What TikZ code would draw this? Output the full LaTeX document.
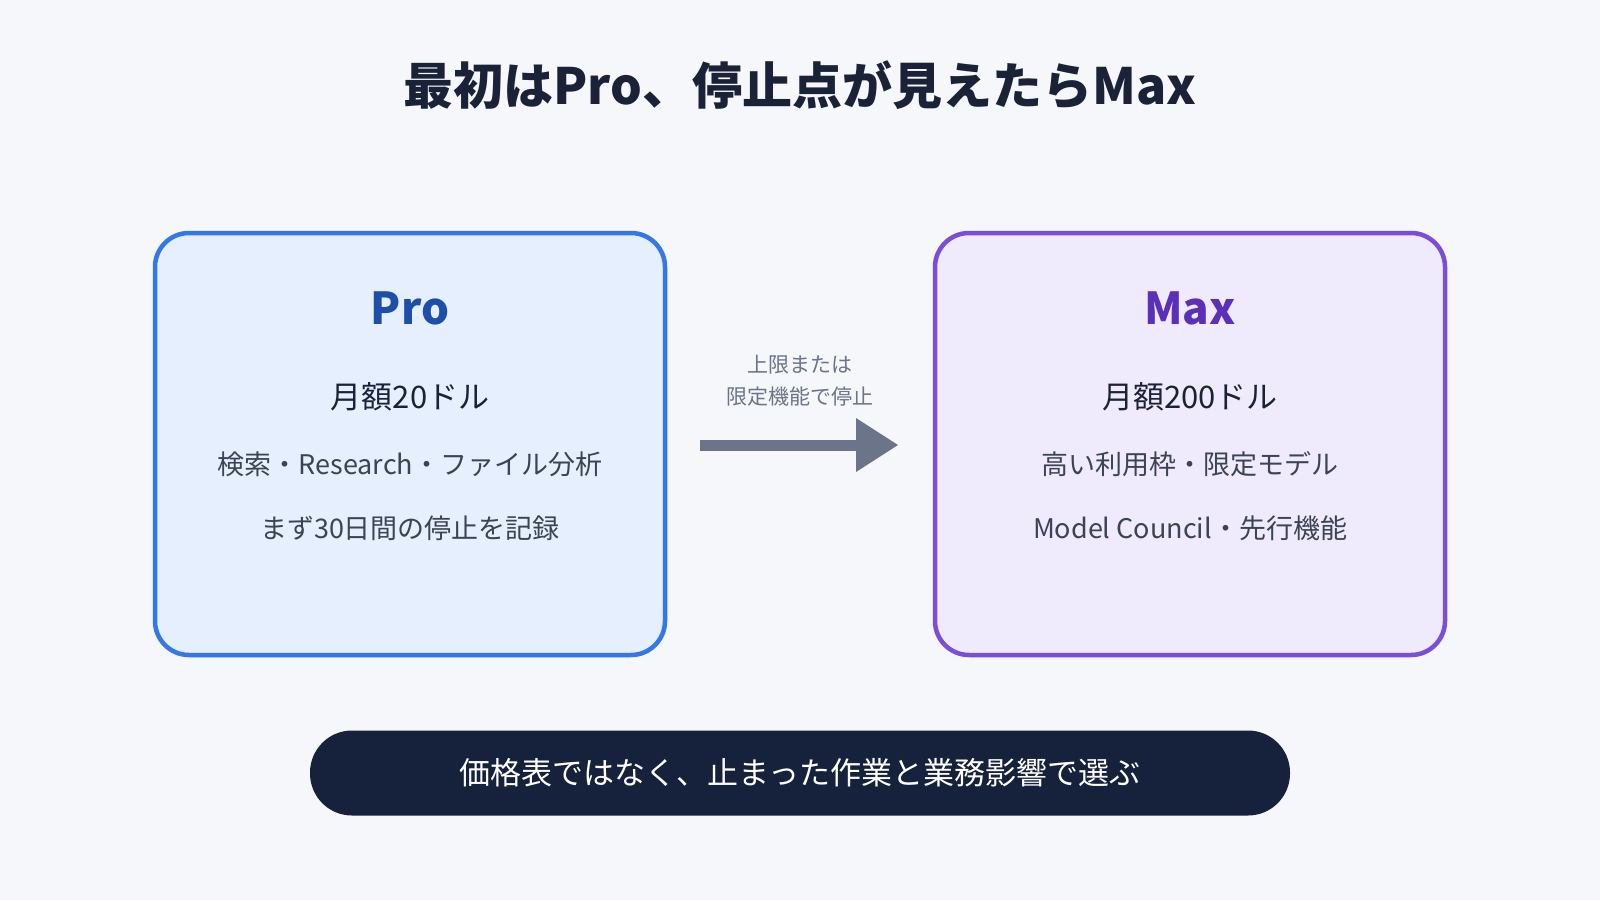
\documentclass[tikz,border=0pt]{standalone}
\usepackage{fontspec}
\setmainfont{Noto Sans CJK JP}
\usetikzlibrary{positioning}
\definecolor{bgcol}{HTML}{F5F7FB}
\definecolor{inkcol}{HTML}{1A2238}
\definecolor{procol}{HTML}{3377E8}
\definecolor{profill}{HTML}{E6EFFD}
\definecolor{protext}{HTML}{1E4FA8}
\definecolor{maxcol}{HTML}{7A4EDB}
\definecolor{maxfill}{HTML}{F0EAFD}
\definecolor{maxtext}{HTML}{5A30B8}
\definecolor{arrowcol}{HTML}{6B7489}
\definecolor{pillcol}{HTML}{16213B}
\tikzset{
  plan/.style={draw, line width=4.5pt, rounded corners=34pt, minimum width=510pt, minimum height=422pt},
  head/.style={font=\fontsize{44}{48}\selectfont\bfseries},
  price/.style={text=inkcol, font=\fontsize{31}{34}\selectfont},
  feat/.style={text=inkcol!85, font=\fontsize{27}{30}\selectfont},
  note/.style={text=arrowcol, font=\fontsize{21}{24}\selectfont}
}
\begin{document}
\begin{tikzpicture}[x=1pt,y=-1pt]
\fill[bgcol] (0,0) rectangle (1600,900);
\useasboundingbox (0,0) rectangle (1600,900);
\node[text=inkcol, font=\fontsize{50}{54}\selectfont\bfseries] (title) at (800,85) {最初はPro、停止点が見えたらMax};
% plans
\node[plan, draw=procol, fill=profill] (pro) at (410,444) {};
\node[plan, draw=maxcol, fill=maxfill] (max) at (1190,444) {};
\node[head, text=protext] (prohead) at (410,308) {Pro};
\node[price] (proprice) at (410,397) {月額20ドル};
\node[feat] (profeat) at (410,464) {検索・Research・ファイル分析};
\node[feat] (pronote) at (410,528) {まず30日間の停止を記録};
\node[head, text=maxtext] (maxhead) at (1190,308) {Max};
\node[price] (maxprice) at (1190,397) {月額200ドル};
\node[feat] (maxfeat) at (1190,464) {高い利用枠・限定モデル};
\node[feat] (maxnote) at (1190,528) {Model Council・先行機能};
% arrow
\coordinate (a1) at (700,445);
\coordinate (a2) at (898,445);
\draw[arrowcol, line width=11pt] (a1) -- ([xshift=-36pt]a2);
\fill[arrowcol] (a2) -- ++(-42,-27) -- ++(0,54) -- cycle;
\node[note] (up1) at (800,365) {上限または};
\node[note] (up2) at (800,397) {限定機能で停止};
% bottom
\node[fill=pillcol, rounded corners=42pt, minimum width=980pt, minimum height=85pt,
  text=white, font=\fontsize{31}{34}\selectfont] (pill) at (800,773) {価格表ではなく、止まった作業と業務影響で選ぶ};
\end{tikzpicture}
\end{document}
